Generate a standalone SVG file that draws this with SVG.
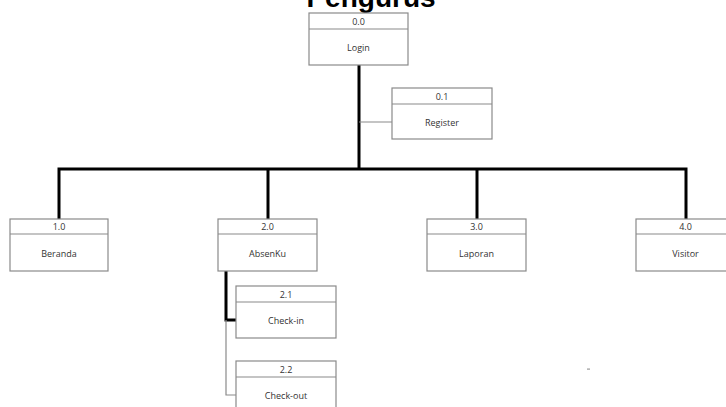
<svg xmlns="http://www.w3.org/2000/svg" width="726" height="407" viewBox="0 0 726 407">
  <style>
    .box { fill: #ffffff; stroke: #8a8a8a; stroke-width: 1.2; }
    .div { stroke: #8a8a8a; stroke-width: 1.2; }
    .lbl { font-family: "Open Sans", "Liberation Sans", sans-serif; font-size: 9px; fill: #333333; text-anchor: middle; dominant-baseline: central; }
    .thick { stroke: #000000; stroke-width: 3; fill: none; }
    .thin { stroke: #8a8a8a; stroke-width: 1.2; fill: none; }
    .title { font-family: "Liberation Sans", Arial, sans-serif; font-weight: bold; font-size: 28px; fill: #000000; text-anchor: middle; }
  </style>
  <rect width="726" height="407" fill="#ffffff"/>
  <text class="title" x="371" y="7">Pengurus</text>

  <g id="connectors">
    <path class="thick" d="M359 65 V169"/>
    <path class="thick" d="M59 219 V169 H686 V219"/>
    <path class="thick" d="M268 169 V219"/>
    <path class="thick" d="M477 169 V219"/>
    <path class="thin" d="M359 122 H392"/>
    <path class="thick" d="M226 271 V320 H236"/>
    <path class="thin" d="M226 320 V395 H236"/>
  </g>

  <g id="n00">
    <rect class="box" x="309" y="13" width="99" height="52"/>
    <line class="div" x1="309" y1="29" x2="408" y2="29"/>
    <text class="lbl" x="358.5" y="21">0.0</text>
    <text class="lbl" x="358.5" y="47">Login</text>
  </g>
  <g id="n01">
    <rect class="box" x="392" y="88" width="100" height="51"/>
    <line class="div" x1="392" y1="104" x2="492" y2="104"/>
    <text class="lbl" x="442" y="96">0.1</text>
    <text class="lbl" x="442" y="122">Register</text>
  </g>
  <g id="n10">
    <rect class="box" x="10" y="219" width="98" height="52"/>
    <line class="div" x1="10" y1="234" x2="108" y2="234"/>
    <text class="lbl" x="59" y="226.5">1.0</text>
    <text class="lbl" x="59" y="253">Beranda</text>
  </g>
  <g id="n20">
    <rect class="box" x="218" y="219" width="99" height="52"/>
    <line class="div" x1="218" y1="234" x2="317" y2="234"/>
    <text class="lbl" x="267.5" y="226.5">2.0</text>
    <text class="lbl" x="267.5" y="253">AbsenKu</text>
  </g>
  <g id="n30">
    <rect class="box" x="427" y="219" width="99" height="52"/>
    <line class="div" x1="427" y1="234" x2="526" y2="234"/>
    <text class="lbl" x="476.5" y="226.5">3.0</text>
    <text class="lbl" x="476.5" y="253">Laporan</text>
  </g>
  <g id="n40">
    <rect class="box" x="636" y="219" width="99" height="52"/>
    <line class="div" x1="636" y1="234" x2="735" y2="234"/>
    <text class="lbl" x="685.5" y="226.5">4.0</text>
    <text class="lbl" x="685.5" y="253">Visitor</text>
  </g>
  <g id="n21">
    <rect class="box" x="236" y="286" width="100" height="52"/>
    <line class="div" x1="236" y1="302" x2="336" y2="302"/>
    <text class="lbl" x="286" y="294">2.1</text>
    <text class="lbl" x="286" y="320">Check-in</text>
  </g>
  <g id="n22">
    <rect class="box" x="236" y="361" width="100" height="52"/>
    <line class="div" x1="236" y1="377" x2="336" y2="377"/>
    <text class="lbl" x="286" y="369">2.2</text>
    <text class="lbl" x="286" y="395">Check-out</text>
  </g>

  <rect x="587" y="368.5" width="3" height="1.2" fill="#9a9a9a"/>
</svg>
